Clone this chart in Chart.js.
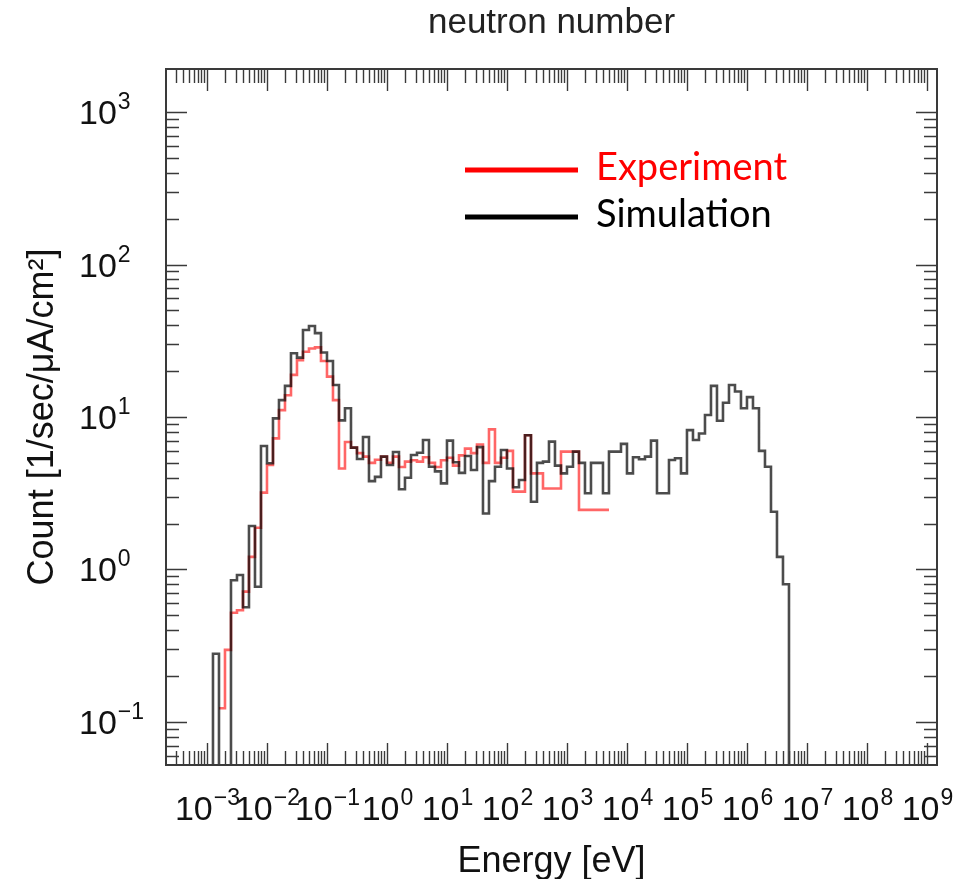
<!DOCTYPE html>
<html>
<head>
<meta charset="utf-8">
<script src="https://cdn.jsdelivr.net/npm/chart.js@4.4.1/dist/chart.umd.min.js"></script>
<style>
  html, body { margin: 0; padding: 0; background: #fff; }
  #wrap { width: 955px; height: 879px; }
</style>
</head>
<body>
<div id="wrap"><canvas id="chart" width="955" height="879"></canvas></div>
<script>
// Simulation histogram: equal bins in log10(E/eV), 10 per decade
const simFirstEdge = -3.0;
const simBinWidth = 0.1;
const simCounts = [
  0, 0.28, 0, 0, 0.85, 0.92, 0.565, 1.93, 0.77, 6.45,
  4.97, 9.8, 12.9, 16.0, 26.2, 24.5, 37.2, 39.5, 35.5, 26.5,
  23.3, 16.2, 9.5, 11.4, 6.3, 5.3, 7.4, 3.8, 4.05, 5.5,
  4.84, 5.9, 3.36, 4.0, 5.64, 5.83, 7.07, 4.72, 4.4, 3.67,
  7.0, 5.05, 4.3, 5.55, 4.49, 6.35, 2.33, 3.8, 4.72, 6.08,
  4.6, 3.46, 3.86, 7.6, 2.78, 5.0, 5.1, 6.9, 4.8, 4.27,
  4.72, 5.93, 5.0, 3.16, 5.0, 5.0, 3.16, 5.93, 5.93, 6.66,
  4.27, 5.45, 5.28, 5.5, 7.0, 3.16, 3.16, 5.23, 5.36, 4.27,
  8.2, 7.07, 7.8, 10.3, 16.0, 9.46, 12.4, 16.2, 14.7, 11.4,
  13.5, 11.4, 6.0, 4.72, 2.39, 1.21, 0.80
];

// Experiment histogram: bin edges in log10(E/eV), wider bins at the top end
const expEdges = [
  -2.8, -2.7, -2.6, -2.5, -2.4, -2.3, -2.2, -2.1, -2.0,
  -1.9, -1.8, -1.7, -1.6, -1.5, -1.4, -1.3, -1.2, -1.1, -1.0,
  -0.9, -0.8, -0.7, -0.6, -0.5, -0.4, -0.3, -0.2, -0.1, 0.0,
  0.1, 0.2, 0.3, 0.4, 0.5, 0.6, 0.7, 0.8, 0.9, 1.0,
  1.1, 1.2, 1.3, 1.4, 1.5, 1.6, 1.7, 1.8, 1.9, 2.0,
  2.1, 2.2, 2.3, 2.4, 2.6, 2.9, 3.2, 3.7
];
const expCounts = [
  0.123, 0.297, 0.52, 0.54, 0.716, 1.21, 1.88, 3.19,
  4.84, 7.24, 11.1, 13.9, 18.9, 23.6, 26.8, 28.1, 28.6, 23.3,
  18.4, 12.9, 4.6, 6.85, 6.3, 5.8, 5.5, 5.0, 5.25, 5.5,
  5.0, 5.5, 4.7, 5.1, 5.2, 5.1, 5.45, 5.0, 4.7, 5.2,
  5.4, 4.8, 5.6, 6.2, 5.8, 6.6, 5.0, 8.3, 5.0, 5.4,
  6.0, 3.24, 3.24, 7.6, 4.27, 3.4, 5.93, 2.46
];

const xDecades = [-3, -2, -1, 0, 1, 2, 3, 4, 5, 6, 7, 8, 9];
const yDecades = [-1, 0, 1, 2, 3];
const xRange = [-3.683, 9.167];   // log10 of axis ends
const yRange = [-1.282, 3.282];

const EMPTY = 1e-4; // empty bins sit below the visible axis

function histPoints(edges, counts, dropAtEnd) {
  const pts = counts.map((c, i) => ({ x: Math.pow(10, edges[i]), y: c > 0 ? c : EMPTY }));
  const last = counts[counts.length - 1];
  pts.push({ x: Math.pow(10, edges[counts.length]), y: dropAtEnd ? EMPTY : last });
  return pts;
}

const simEdges = [];
for (let i = 0; i <= simCounts.length; i++) simEdges.push(simFirstEdge + i * simBinWidth);

const AXIS_FONT = '"Liberation Sans", Arial, sans-serif';

function supLabel(e) {
  return { base: "10", exp: e < 0 ? "\u2212" + Math.abs(e) : String(e) };
}

const frameTicks = {
  id: "frameTicks",
  afterDatasetsDraw(chart) {
    const { ctx, chartArea: a, scales: { x, y } } = chart;
    ctx.save();
    ctx.strokeStyle = "#3a3a3a";
    ctx.lineWidth = 1.4;
    ctx.beginPath();
    const xe0 = Math.floor(Math.log10(x.min)), xe1 = Math.ceil(Math.log10(x.max));
    for (let e = xe0; e <= xe1; e++) {
      for (let m = 1; m <= 9; m++) {
        const v = m * Math.pow(10, e);
        if (v < x.min || v > x.max) continue;
        const px = Math.round(x.getPixelForValue(v)) + 0.5;
        const len = m === 1 ? 22 : 14;
        ctx.moveTo(px, a.bottom); ctx.lineTo(px, a.bottom - len);
        ctx.moveTo(px, a.top); ctx.lineTo(px, a.top + len);
      }
    }
    const ye0 = Math.floor(Math.log10(y.min)), ye1 = Math.ceil(Math.log10(y.max));
    for (let e = ye0; e <= ye1; e++) {
      for (let m = 1; m <= 9; m++) {
        const v = m * Math.pow(10, e);
        if (v < y.min || v > y.max) continue;
        const py = Math.round(y.getPixelForValue(v)) + 0.5;
        const len = m === 1 ? 21 : 13;
        ctx.moveTo(a.left, py); ctx.lineTo(a.left + len, py);
        ctx.moveTo(a.right, py); ctx.lineTo(a.right - len, py);
      }
    }
    ctx.stroke();
    ctx.lineWidth = 2;
    ctx.strokeRect(a.left, a.top, a.right - a.left, a.bottom - a.top);
    ctx.restore();
  },
  afterDraw(chart) {
    const { ctx, scales: { x, y } } = chart;
    ctx.save();
    ctx.fillStyle = "#111";
    ctx.textBaseline = "alphabetic";
    const big = "34px " + AXIS_FONT, small = "23px " + AXIS_FONT;
    // x tick labels, whole label centred on the tick
    x.ticks.forEach(t => {
      const { base, exp } = supLabel(Math.round(Math.log10(t.value)));
      ctx.font = big; const wb = ctx.measureText(base).width;
      ctx.font = small; const we = ctx.measureText(exp).width;
      const x0 = x.getPixelForValue(t.value) - (wb + we) / 2;
      ctx.font = big; ctx.fillText(base, x0, 820);
      ctx.font = small; ctx.fillText(exp, x0 + wb + 1, 805);
    });
    // y tick labels
    y.ticks.forEach(t => {
      const { base, exp } = supLabel(Math.round(Math.log10(t.value)));
      const py = y.getPixelForValue(t.value);
      ctx.font = big; const wb = ctx.measureText(base).width;
      ctx.fillText(base, 79, py + 12);
      ctx.font = small; ctx.fillText(exp, 79 + wb + 1, py - 3);
    });
    ctx.restore();
  }
};

const legendBox = {
  id: "legendBox",
  afterDraw(chart) {
    const { ctx } = chart;
    const items = [
      { ds: chart.data.datasets[1], y: 170 },
      { ds: chart.data.datasets[0], y: 217 }
    ];
    ctx.save();
    ctx.font = "38px Lato, sans-serif";
    ctx.textBaseline = "middle";
    items.forEach(it => {
      ctx.strokeStyle = it.ds.legendColor;
      ctx.lineWidth = 5;
      ctx.beginPath();
      ctx.moveTo(465, it.y); ctx.lineTo(578, it.y);
      ctx.stroke();
      ctx.fillStyle = it.ds.legendColor;
      ctx.fillText(it.ds.label, 596, it.y - 2);
    });
    ctx.restore();
  }
};

new Chart(document.getElementById("chart"), {
  type: "line",
  data: {
    datasets: [
      {
        label: "Simulation",
        data: histPoints(simEdges, simCounts, true),
        stepped: true,
        borderColor: "rgba(0,0,0,0.7)",
        legendColor: "#000000",
        borderWidth: 2.6,
        pointRadius: 0,
        fill: false,
        clip: 0
      },
      {
        label: "Experiment",
        data: histPoints(expEdges, expCounts, false),
        stepped: true,
        borderColor: "rgba(255,0,0,0.6)",
        legendColor: "#ff0000",
        borderWidth: 2.6,
        pointRadius: 0,
        fill: false,
        clip: 0
      }
    ]
  },
  options: {
    responsive: false,
    animation: false,
    devicePixelRatio: 1,
    layout: { padding: { top: 0, right: 18, bottom: 0, left: 0 } },
    plugins: {
      legend: { display: false },
      tooltip: { enabled: false },
      title: {
        display: true,
        text: "neutron number",
        fullSize: false,
        color: "#222",
        font: { family: AXIS_FONT, size: 35, weight: "normal", lineHeight: 1.2 },
        padding: { top: 2, bottom: 25 }
      }
    },
    scales: {
      x: {
        type: "logarithmic",
        position: "bottom",
        min: Math.pow(10, xRange[0]),
        max: Math.pow(10, xRange[1]),
        grid: { display: false },
        border: { display: false },
        ticks: { display: false },
        afterBuildTicks: s => { s.ticks = xDecades.map(e => ({ value: Math.pow(10, e) })); },
        afterFit: s => { s.height = 114; },
        title: {
          display: true,
          text: "Energy [eV]",
          color: "#111",
          font: { family: AXIS_FONT, size: 36, lineHeight: 1.2 },
          padding: { top: 0, bottom: -5 }
        }
      },
      y: {
        type: "logarithmic",
        position: "left",
        min: Math.pow(10, yRange[0]),
        max: Math.pow(10, yRange[1]),
        grid: { display: false },
        border: { display: false },
        ticks: { display: false },
        afterBuildTicks: s => { s.ticks = yDecades.map(e => ({ value: Math.pow(10, e) })); },
        afterFit: s => { s.width = 166; },
        title: {
          display: true,
          text: "Count [1/sec/\u03bcA/cm\u00b2]",
          color: "#111",
          font: { family: AXIS_FONT, size: 36, lineHeight: 1.2 },
          padding: { top: 21, bottom: 0 }
        }
      }
    }
  },
  plugins: [frameTicks, legendBox]
});
</script>
</body>
</html>
